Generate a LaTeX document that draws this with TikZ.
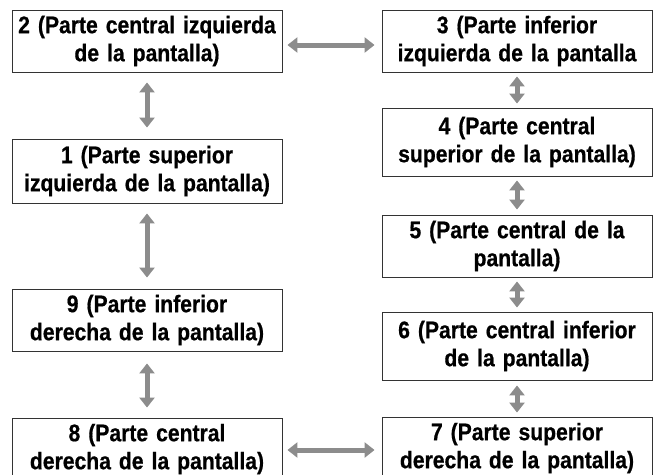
\documentclass[tikz,border=0pt]{standalone}
\usepackage{fontspec}
\setmainfont[FakeStretch=0.88,WordSpace=0.8,BoldFeatures={FakeBold=0.6}]{Liberation Sans}
\usetikzlibrary{arrows.meta}
\definecolor{arrgray}{HTML}{8C8C8C}
\definecolor{boxline}{HTML}{333333}
\tikzset{
  box/.style={draw=boxline, line width=0.9pt, minimum width=270pt, text width=268pt,
    align=center, inner sep=0pt, font=\fontsize{24pt}{28pt}\bfseries\selectfont},
  dbl/.style={draw=arrgray, line width=5pt,
    {Triangle[width=15pt,length=10pt]}-{Triangle[width=15pt,length=10pt]}},
}
\begin{document}
\begin{tikzpicture}[x=1pt,y=-1pt]
\useasboundingbox (0,0) rectangle (660,474);
% left column
\node[box, minimum height=62pt] (n2) at (147,41) {2 (Parte central izquierda\\de la pantalla)};
\node[box, minimum height=64pt] (n1) at (147,171) {1 (Parte superior\\izquierda de la pantalla)};
\node[box, minimum height=62pt] (n9) at (147,320) {9 (Parte inferior\\derecha de la pantalla)};
\node[box, minimum height=62pt] (n8) at (147,449) {8 (Parte central\\derecha de la pantalla)};
% right column
\node[box, minimum height=62pt] (n3) at (517,41) {3 (Parte inferior\\izquierda de la pantalla};
\node[box, minimum height=68pt] (n4) at (517,142) {4 (Parte central\\superior de la pantalla)};
\node[box, minimum height=62pt] (n5) at (517,246) {5 (Parte central de la\\pantalla)};
\node[box, minimum height=68pt] (n6) at (517,346) {6 (Parte central inferior\\de la pantalla)};
\node[box, minimum height=62pt] (n7) at (517,448) {7 (Parte superior\\derecha de la pantalla)};
% arrows
\draw[dbl, shorten <=10pt, shorten >=11pt] (n2) -- (n1);
\draw[dbl, shorten <=10pt, shorten >=11pt] (n1) -- (n9);
\draw[dbl, shorten <=12pt, shorten >=10pt] (n9) -- (n8);
\draw[dbl, shorten <=4pt, shorten >=4pt] (n3) -- (n4);
\draw[dbl, shorten <=4pt, shorten >=5pt] (n4) -- (n5);
\draw[dbl, shorten <=4pt, shorten >=4pt] (n5) -- (n6);
\draw[dbl, shorten <=5pt, shorten >=4pt] (n6) -- (n7);
\draw[dbl, shorten <=5pt, shorten >=7pt] (n2.east |- 0,45) -- (n3.west |- 0,45);
\draw[dbl, shorten <=5pt, shorten >=7pt] (n8.east |- 0,450) -- (n7.west |- 0,450);
\end{tikzpicture}
\end{document}
